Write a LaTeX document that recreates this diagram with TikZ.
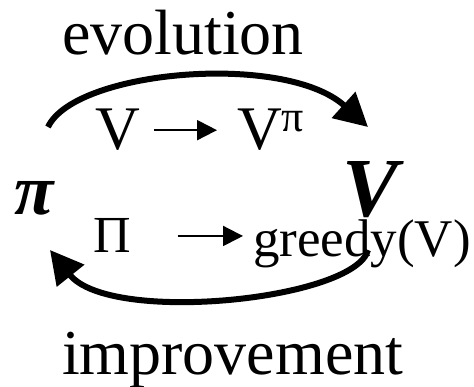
\documentclass[tikz,border=0pt]{standalone}
\usepackage{fontspec}
\setmainfont{Liberation Serif}
\usetikzlibrary{arrows.meta, positioning}

\begin{document}
\begin{tikzpicture}[x=1pt, y=-1pt,
    every node/.style={inner sep=0pt, outer sep=0pt},
    word/.style={font=\fontsize{64}{64}\selectfont, anchor=base west},
    formula/.style={anchor=base west},
    bigarc/.style={line width=6pt, -{Triangle[length=33pt, width=34pt]}},
    smallarrow/.style={line width=2pt, -{Triangle[length=20pt, width=20pt]}}
]
\useasboundingbox (0,0) rectangle (474,387);

% names of the two steps
\node[word] (evo) at (62,55) {evolution};
\node[word] (imp) at (62,374) {improvement};

% policy and value
\node[font=\fontsize{72}{72}\selectfont\bfseries\itshape] (pol) at (34,198) {π};
\node[font=\fontsize{84}{84}\selectfont\bfseries\itshape] (val) at (371,190) {V};

% V -> V^pi
\node[formula, font=\fontsize{62}{62}\selectfont] (vA) at (95,150) {V};
\node[formula, font=\fontsize{62}{62}\selectfont] (vpi) at (237,150) {V\raisebox{18pt}{\fontsize{44}{44}\selectfont π}};
\draw[smallarrow, shorten <=14pt, shorten >=20pt] (vA.east) -- (vA.east -| vpi.west);

% Pi -> greedy(V)
\node[formula, font=\fontsize{52}{52}\selectfont] (piB) at (93,253) {Π};
\node[formula, font=\fontsize{53}{53}\selectfont] (greedy) at (253,257) {greedy(V)};
\draw[smallarrow, shorten <=47pt, shorten >=10pt] (piB.east) -- (piB.east -| greedy.west);

% the two arcs
\coordinate (evoStart) at (48,127);
\coordinate (evoEnd) at (368,127);
\coordinate (impStart) at (368,250);
\coordinate (impEnd) at (50,250);
\draw[bigarc] (evoStart) .. controls (75,70) and (285,52) .. (evoEnd);
\draw[bigarc] (impStart) .. controls (355,300) and (110,325) .. (impEnd);

\end{tikzpicture}
\end{document}
